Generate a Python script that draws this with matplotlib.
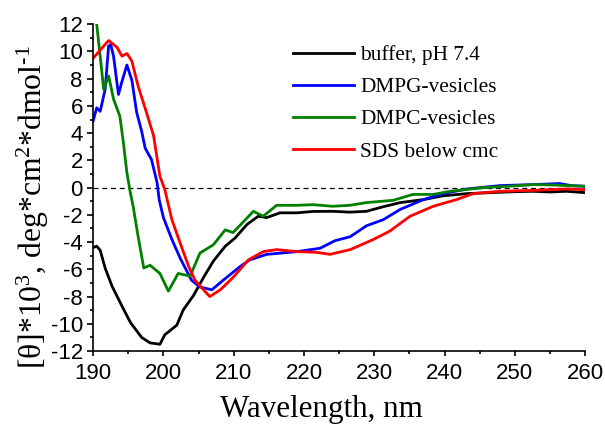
import matplotlib.pyplot as plt
from matplotlib.ticker import MultipleLocator

plt.rcParams["font.family"] = "Liberation Sans"
plt.rcParams["axes.unicode_minus"] = False
plt.rcParams["mathtext.fontset"] = "custom"
plt.rcParams["mathtext.rm"] = "Liberation Serif"
plt.rcParams["mathtext.it"] = "Liberation Serif:italic"

# CD spectra
buffer_x = [190, 190.5, 191, 191.7, 192.7, 194.1, 195.3, 196.9, 198.1, 199.5, 200.2,
            201.9, 202.8, 204.3, 205.7, 207.1, 208.8, 210.2, 211.9, 213.5, 214.7,
            216.6, 219, 221.3, 224.1, 226.5, 228.9, 231.3, 233.7, 237, 239.8, 243.2,
            247.9, 250, 252.6, 255, 257.4, 260]
buffer_y = [-4.4, -4.3, -4.6, -5.9, -7.25, -8.7, -9.9, -11.0, -11.4, -11.5, -10.8,
            -10.1, -9.0, -7.9, -6.6, -5.4, -4.3, -3.7, -2.7, -2.1, -2.2,
            -1.85, -1.85, -1.75, -1.74, -1.8, -1.74, -1.4, -1.1, -0.88, -0.6, -0.44,
            -0.34, -0.3, -0.27, -0.32, -0.27, -0.37]

dmpg_x = [190, 190.5, 191, 191.7, 192.2, 192.5, 192.9, 193.6, 194.1, 194.8, 195.5,
          196.2, 196.9, 197.4, 198.3, 199.1, 199.4, 200, 201.2, 202.4, 204, 205.2,
          206.9, 208.5, 210.9, 212.3, 214.7, 219, 222.3, 224.4, 226.6, 228.9, 231.3,
          233.7, 237, 239.8, 243.2, 247.9, 252.6, 256.4, 258, 260]
dmpg_y = [4.9, 5.86, 5.6, 7.2, 10.4, 10.5, 9.65, 6.84, 7.8, 9.0, 7.9,
          5.5, 4.14, 2.9, 2.06, 0.35, -0.9, -2.2, -3.8, -5.2, -6.8, -7.3,
          -7.5, -6.8, -5.8, -5.3, -4.9, -4.7, -4.45, -3.9, -3.6, -2.8, -2.35,
          -1.6, -0.88, -0.44, -0.1, 0.15, 0.22, 0.3, 0.15, 0.1]

dmpc_x = [190, 190.5, 191, 191.5, 192.2, 192.9, 193.8, 194.3, 194.8, 195.3, 195.7,
          196.4, 197.2, 198.1, 199.5, 200.7, 202.1, 203.8, 205.2, 207.1, 208.8,
          209.9, 211.4, 212.8, 214.2, 216.1, 219, 221.3, 224.1, 226.5, 228.9, 232.7,
          235.5, 238.4, 240.8, 245.5, 249, 252.6, 255, 257.4, 260]
dmpc_y = [12.6, 12.0, 9.65, 7.2, 8.2, 6.5, 5.24, 3.3, 1.1, -0.4, -1.4,
          -3.6, -5.9, -5.7, -6.3, -7.6, -6.3, -6.5, -4.8, -4.2, -3.1,
          -3.3, -2.5, -1.74, -2.1, -1.3, -1.3, -1.25, -1.37, -1.3, -1.1, -0.93,
          -0.5, -0.5, -0.27, 0.0, 0.1, 0.22, 0.2, 0.15, 0.1]

sds_x = [190, 191, 192.2, 193.4, 194.1, 194.8, 195.5, 196.4, 197.6, 198.6, 199.5,
         200.2, 201.2, 202.4, 203.6, 204.5, 205.7, 206.6, 208.1, 209.9, 212.1,
         214.2, 216.1, 219, 221.8, 223.7, 226.6, 229.9, 232.2, 235.1, 238.4, 241.7,
         244.1, 247.9, 252.6, 257.4, 260]
sds_y = [9.5, 10.1, 10.8, 10.3, 9.65, 9.85, 9.3, 7.45, 5.5, 3.8, 0.83,
         -0.15, -2.35, -4.1, -5.8, -6.8, -7.5, -8.0, -7.5, -6.6, -5.3,
         -4.7, -4.55, -4.7, -4.75, -4.9, -4.55, -3.8, -3.2, -2.1, -1.37, -0.88,
         -0.44, -0.27, -0.2, -0.1, -0.15]

series = [
    ("buffer, pH 7.4", buffer_x, buffer_y, "black"),
    ("DMPG-vesicles", dmpg_x, dmpg_y, "#0000ff"),
    ("DMPC-vesicles", dmpc_x, dmpc_y, "#008000"),
    ("SDS below cmc", sds_x, sds_y, "#ff0000"),
]

fig = plt.figure(figsize=(6.05, 4.24), dpi=100)
ax = fig.add_axes([0.154, 0.172, 0.813, 0.771])

ax.axhline(0, color="black", lw=0.9, ls=(0, (4, 3)), zorder=1)
for label, xs, ys, color in series:
    ax.plot(xs, ys, color=color, lw=2, label=label)

ax.set_xlim(190, 260)
ax.set_ylim(-12, 12)
ax.xaxis.set_major_locator(MultipleLocator(10))
ax.xaxis.set_minor_locator(MultipleLocator(5))
ax.yaxis.set_major_locator(MultipleLocator(2))
ax.yaxis.set_minor_locator(MultipleLocator(1))

for side in ["top", "right"]:
    ax.spines[side].set_visible(False)
for side in ["left", "bottom"]:
    ax.spines[side].set_linewidth(1.2)

ax.tick_params(axis="x", which="major", direction="out", length=3.3, width=1.2,
               labelsize=16, pad=5)
ax.tick_params(axis="x", which="minor", direction="out", length=2.2, width=1.2)
ax.tick_params(axis="y", which="major", direction="out", length=4.5, width=1.2,
               labelsize=16, pad=3)
ax.tick_params(axis="y", which="minor", direction="out", length=2.4, width=1.2)

ax.set_xlabel("Wavelength, nm", fontsize=22.3, family="Liberation Serif")
ax.xaxis.set_label_coords(0.465, -0.135)
ax.set_ylabel(r"[θ]*10$^{3}$, deg*cm$^{2}$*dmol$^{\text{-}1}$", fontsize=22.8,
              family="Liberation Serif")
ax.yaxis.set_label_coords(-0.086, 0.44)

ax.legend(loc="upper left", bbox_to_anchor=(0.4065, 0.936), frameon=False,
          borderaxespad=0, borderpad=0,
          prop={"family": "Liberation Serif", "size": 15.4},
          handlelength=2.85, handletextpad=0.28, labelspacing=0.57)

fig.savefig("out.png", dpi=100)
